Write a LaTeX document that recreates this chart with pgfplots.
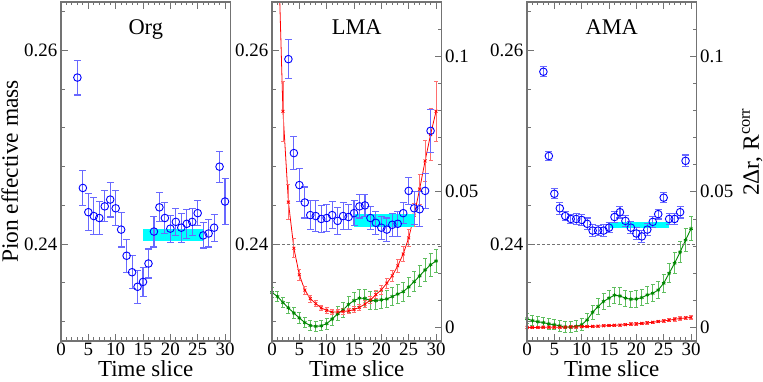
\documentclass[border=0pt]{standalone}
\usepackage{fontspec}
\setmainfont{Liberation Serif}
\usepackage{pgfplots}
\usepackage{pgfplotstable}
\pgfplotsset{compat=1.18}

\definecolor{mblue}{RGB}{0,0,255}
\definecolor{ebblue}{RGB}{105,105,255}
\definecolor{mred}{RGB}{255,0,0}
\definecolor{ebred}{RGB}{255,110,110}
\definecolor{mgreen}{RGB}{0,135,0}
\definecolor{ebgreen}{RGB}{95,190,95}
\definecolor{framec}{RGB}{115,115,115}
\definecolor{bandc}{RGB}{0,255,255}

% effective mass, original / LMA / AMA
\pgfplotstableread{
t m e
3 0.2572 0.0018
4 0.2458 0.0018
5 0.2433 0.0019
6 0.2429 0.0019
7 0.2427 0.0017
8 0.2439 0.0016
9 0.2446 0.0018
10 0.2437 0.0018
11 0.2415 0.0018
12 0.2388 0.0017
13 0.2371 0.0017
14 0.2356 0.0017
15 0.2361 0.0015
16 0.2380 0.0015
17 0.2413 0.0016
18 0.2438 0.0015
19 0.2427 0.0016
20 0.2416 0.0014
21 0.2423 0.0014
22 0.2417 0.0015
23 0.2421 0.0015
24 0.2423 0.0014
25 0.2432 0.0013
26 0.2409 0.0013
27 0.2411 0.0014
28 0.2417 0.0014
29 0.2480 0.0016
30 0.2444 0.0024
}\orgmass

\pgfplotstableread{
t m e
3 0.2591 0.0020
4 0.2494 0.0017
5 0.2461 0.0017
6 0.2443 0.0016
7 0.2430 0.0015
8 0.2429 0.0016
9 0.2426 0.0014
10 0.2427 0.0014
11 0.2430 0.0014
12 0.2424 0.0014
13 0.2429 0.0014
14 0.2428 0.0013
15 0.2432 0.0013
16 0.2439 0.0012
17 0.2440 0.0011
18 0.2427 0.0012
19 0.2422 0.0012
20 0.2417 0.0012
21 0.2415 0.0012
22 0.2420 0.0012
23 0.2421 0.0013
24 0.2432 0.0011
25 0.2455 0.0014
26 0.2437 0.0017
27 0.2436 0.0018
28 0.2455 0.0018
29 0.2517 0.0022
}\lmamass

\pgfplotstableread{
t m e
3 0.2578 0.0005
4 0.2491 0.0005
5 0.2452 0.0005
6 0.2437 0.0006
7 0.2429 0.0005
8 0.2426 0.0005
9 0.2426 0.0006
10 0.2425 0.0006
11 0.2421 0.0006
12 0.2414 0.0006
13 0.2414 0.0005
14 0.2414 0.0006
15 0.2417 0.0005
16 0.2428 0.0006
17 0.2433 0.0006
18 0.2424 0.0006
19 0.2417 0.0006
20 0.2411 0.0006
21 0.2408 0.0006
22 0.2415 0.0006
23 0.2423 0.0006
24 0.2431 0.0005
25 0.2448 0.0005
26 0.2426 0.0006
27 0.2426 0.0006
28 0.2433 0.0006
29 0.2486 0.0006
}\amamass

% 2 Delta r (red) and R^corr (green)
\pgfplotstableread{
t v e
1 0.1500 0.0200
2 0.0797 0.0110
3 0.0462 0.0064
4 0.0292 0.0035
5 0.0194 0.0020
6 0.0138 0.0015
7 0.0106 0.0012
8 0.0088 0.0010
9 0.0072 0.0010
10 0.0063 0.0010
11 0.0057 0.0010
12 0.0057 0.0010
13 0.0059 0.0010
14 0.0061 0.0010
15 0.0066 0.0010
16 0.0074 0.0012
17 0.0086 0.0012
18 0.0101 0.0013
19 0.0121 0.0014
20 0.0139 0.0016
21 0.0163 0.0018
22 0.0191 0.0020
23 0.0227 0.0024
24 0.0271 0.0028
25 0.0330 0.0033
26 0.0414 0.0042
27 0.0510 0.0055
28 0.0614 0.0075
29 0.0711 0.0095
30 0.0797 0.0110
}\lmadr

\pgfplotstableread{
t v e
0 0.0129 0.0020
1 0.0114 0.0020
2 0.0092 0.0020
3 0.0072 0.0020
4 0.0053 0.0020
5 0.0035 0.0020
6 0.0018 0.0020
7 0.0007 0.0019
8 0.0004 0.0018
9 0.0006 0.0019
10 0.0014 0.0020
11 0.0031 0.0024
12 0.0050 0.0026
13 0.0065 0.0028
14 0.0085 0.0030
15 0.0099 0.0031
16 0.0108 0.0032
17 0.0107 0.0032
18 0.0099 0.0032
19 0.0099 0.0032
20 0.0102 0.0032
21 0.0105 0.0033
22 0.0114 0.0033
23 0.0123 0.0034
24 0.0132 0.0035
25 0.0149 0.0036
26 0.0169 0.0038
27 0.0190 0.0040
28 0.0212 0.0041
29 0.0231 0.0042
30 0.0245 0.0043
}\lmarc

\pgfplotstableread{
t v e
0 0.0000 0.0004
1 0.0000 0.0004
2 0.0000 0.0004
3 0.0001 0.0004
4 0.0001 0.0004
5 0.0001 0.0004
6 0.0001 0.0004
7 0.0001 0.0004
8 0.0002 0.0004
9 0.0002 0.0004
10 0.0003 0.0004
11 0.0003 0.0004
12 0.0004 0.0004
13 0.0005 0.0004
14 0.0006 0.0004
15 0.0007 0.0004
16 0.0008 0.0004
17 0.0009 0.0004
18 0.0010 0.0004
19 0.0012 0.0005
20 0.0013 0.0005
21 0.0015 0.0005
22 0.0017 0.0005
23 0.0019 0.0005
24 0.0022 0.0005
25 0.0024 0.0005
26 0.0027 0.0005
27 0.0030 0.0006
28 0.0033 0.0006
29 0.0035 0.0006
30 0.0037 0.0006
}\amadr

\pgfplotstableread{
t v e
0 0.0032 0.0018
1 0.0025 0.0018
2 0.0021 0.0018
3 0.0018 0.0018
4 0.0013 0.0019
5 0.0010 0.0019
6 0.0006 0.0020
7 0.0002 0.0020
8 0.0001 0.0020
9 0.0004 0.0020
10 0.0010 0.0022
11 0.0028 0.0024
12 0.0056 0.0026
13 0.0077 0.0028
14 0.0096 0.0030
15 0.0108 0.0030
16 0.0119 0.0030
17 0.0116 0.0030
18 0.0108 0.0030
19 0.0104 0.0030
20 0.0105 0.0030
21 0.0110 0.0030
22 0.0120 0.0032
23 0.0126 0.0032
24 0.0138 0.0033
25 0.0163 0.0034
26 0.0200 0.0036
27 0.0237 0.0038
28 0.0278 0.0040
29 0.0322 0.0042
30 0.0364 0.0044
}\amarc

\pgfplotsset{
  panel/.style={
    scale only axis, width=169.5bp, height=339bp, anchor=south west,
    xmin=0, xmax=31,
    xtick={0,5,...,30}, xticklabels={0,5,10,15,20,25,30},
    minor x tick num=4,
    tick align=inside, xtick pos=both, xticklabel pos=bottom,
    major tick length=7bp, minor tick length=3.5bp,
    axis line style={framec, line width=1.1bp},
    tick style={framec, line width=0.9bp},
    tick label style={font=\fontsize{19}{20}\selectfont, inner sep=0pt},
    xticklabel style={yshift=-2bp},
    label style={font=\fontsize{23.5}{26}\selectfont, inner sep=0pt},
    title style={font=\fontsize{22.5}{24}\selectfont, inner sep=0pt,
      at={(0.5,0.887)}, anchor=base, yshift=0pt},
    xlabel style={font=\fontsize{23}{25}\selectfont,
      at={(axis description cs:0.5,-0.1053)}, anchor=base},
    scaled ticks=false,
  },
  leftax/.style={
    ymin=0.23, ymax=0.265,
    ytick={0.24,0.26}, yticklabels={0.24,0.26},
    minor ytick={0.232,0.236,0.244,0.248,0.252,0.256,0.264},
    ytick pos=left, yticklabel style={xshift=-3.5bp},
  },
  rightax/.style={
    ymin=-0.005, ymax=0.12,
    ytick={0,0.05,0.1}, yticklabels={0,0.05,0.1},
    minor ytick={0.01,0.02,0.03,0.04,0.06,0.07,0.08,0.09,0.11},
    ytick pos=right, yticklabel pos=right, hide x axis,
    yticklabel style={xshift=3.5bp},
  },
  massp/.style={only marks, mark=o, mark size=3.8bp, mblue,
    mark options={line width=0.9bp},
    error bars/.cd, y dir=both, y explicit,
    error bar style={ebblue, line width=1.1bp},
    error mark options={rotate=90, mark size=3.5bp, ebblue, line width=1.1bp}},
  drp/.style={mred, line width=0.8bp, mark=x, mark size=2bp,
    mark options={line width=0.8bp},
    error bars/.cd, y dir=both, y explicit,
    error bar style={ebred, line width=0.8bp},
    error mark options={rotate=90, mark size=2bp, ebred, line width=0.8bp}},
  rcp/.style={mgreen, line width=0.9bp, mark=asterisk, mark size=2bp,
    mark options={line width=0.8bp},
    error bars/.cd, y dir=both, y explicit,
    error bar style={ebgreen, line width=1bp},
    error mark options={rotate=90, mark size=2bp, ebgreen, line width=1bp}},
  band/.style={fill=bandc, draw=none, forget plot},
  ref/.style={framec, dash pattern=on 3bp off 2bp, line width=0.9bp, forget plot},
}

\begin{document}
\begin{tikzpicture}
\useasboundingbox (0,0) rectangle (763bp,382bp);

% Org
\begin{axis}[panel, leftax, at={(61bp,41bp)}, title={Org}, xlabel={Time slice},
    ylabel={Pion effective mass},
    ylabel style={at={(axis description cs:-0.2537,0.5)}, anchor=base}]
  \addplot[band] coordinates {(15,0.2403)(26,0.2403)(26,0.2416)(15,0.2416)};
  \addplot[massp] table[x=t, y=m, y error=e] {\orgmass};
\end{axis}

% LMA
\begin{axis}[panel, rightax, at={(272bp,41bp)}]
  \addplot[rcp] table[x=t, y=v, y error=e] {\lmarc};
  \addplot[drp] table[x=t, y=v, y error=e] {\lmadr};
\end{axis}
\begin{axis}[panel, leftax, at={(272bp,41bp)}, title={LMA}, xlabel={Time slice}]
  \addplot[ref] coordinates {(0,0.24)(31,0.24)};
  \addplot[band] coordinates {(15,0.2418)(26,0.2418)(26,0.24315)(15,0.24315)};
  \addplot[massp] table[x=t, y=m, y error=e] {\lmamass};
\end{axis}

% AMA
\begin{axis}[panel, rightax, at={(527bp,41bp)},
    ylabel={2Δr, R\textsuperscript{corr}},
    ylabel style={at={(axis description cs:1.3676,0.5575)}, anchor=base}]
  \addplot[rcp] table[x=t, y=v, y error=e] {\amarc};
  \addplot[drp] table[x=t, y=v, y error=e] {\amadr};
\end{axis}
\begin{axis}[panel, leftax, at={(527bp,41bp)}, title={AMA}, xlabel={Time slice}]
  \addplot[ref] coordinates {(0,0.24)(31,0.24)};
  \addplot[band] coordinates {(15,0.2417)(26,0.2417)(26,0.2423)(15,0.2423)};
  \addplot[massp] table[x=t, y=m, y error=e] {\amamass};
\end{axis}
\end{tikzpicture}
\end{document}
